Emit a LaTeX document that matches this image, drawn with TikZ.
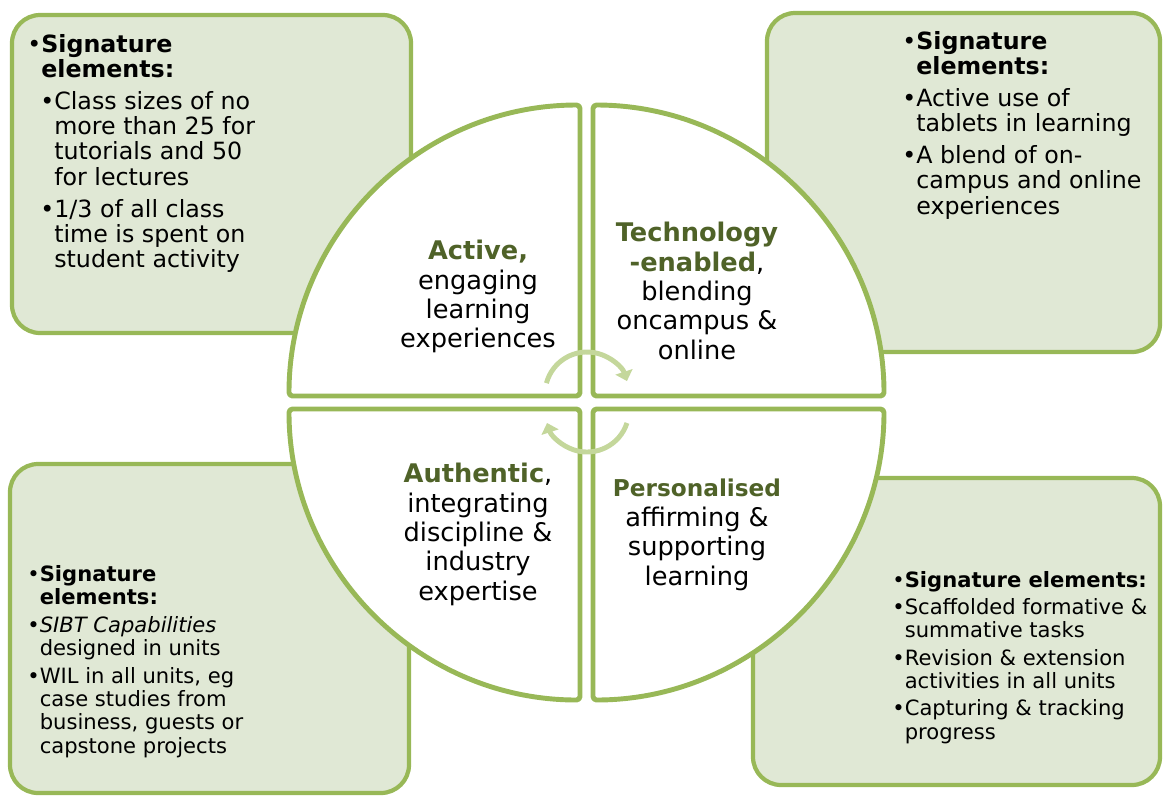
\documentclass[tikz,border=0pt]{standalone}
\usepackage{fontspec}
\setmainfont{DejaVu Sans}
\usepackage{tikz}
\usetikzlibrary{arrows.meta,positioning}

\definecolor{sigGreen}{RGB}{152,184,87}
\definecolor{sigFill}{RGB}{224,232,213}
\definecolor{sigDark}{RGB}{79,98,40}
\definecolor{sigLight}{RGB}{196,215,155}

\begin{document}
\begin{tikzpicture}[x=0.02cm,y=0.02cm,
  sigbox/.style={draw=sigGreen,fill=sigFill,line width=2.4pt,rounded corners=16pt},
  quarter/.style={draw=sigGreen,fill=white,line width=2.8pt,rounded corners=2pt,line join=round},
  bigtext/.style={align=left,inner sep=0pt,anchor=north west,font=\fontsize{13.5}{14.4}\selectfont},
  smalltext/.style={align=left,inner sep=0pt,anchor=north west,font=\fontsize{12}{13.3}\selectfont},
  midtext/.style={align=center,inner sep=0pt,anchor=north,font=\fontsize{14.6}{16.7}\selectfont},
  cyclearrow/.style={draw=sigLight,line width=2.8pt,-{Triangle[width=10pt,length=5.5pt]}}]
\useasboundingbox (0,0) rectangle (1163,-796);

% boxes behind the circle
\draw[sigbox] (12,-15) rectangle (411,-333);
\draw[sigbox] (767,-13) rectangle (1160,-352);
\draw[sigbox] (10,-464) rectangle (409,-793);
\draw[sigbox] (753,-478) rectangle (1160,-785);

% circle in four quarters
\draw[quarter] (580,-396) -- (289,-396) arc[start angle=180,end angle=90,radius=291] -- cycle;
\draw[quarter] (593,-396) -- (593,-105) arc[start angle=90,end angle=0,radius=291] -- cycle;
\draw[quarter] (580,-409) -- (289,-409) arc[start angle=180,end angle=270,radius=291] -- cycle;
\draw[quarter] (593,-409) -- (593,-700) arc[start angle=270,end angle=360,radius=291] -- cycle;

% cycle arrows in the middle
\coordinate (cycTop) at (587,-394);
\coordinate (cycBot) at (587,-410);
\draw[cyclearrow] ([shift={(165:42)}]cycTop) arc[start angle=165,end angle=18,radius=42];
\draw[cyclearrow] ([shift={(-18:42)}]cycBot) arc[start angle=-18,end angle=-162,radius=42];

% quarter texts
\node[midtext] (active) at (478,-240)
  {\textcolor{sigDark}{\textbf{Active,}}\\engaging\\learning\\experiences};
\node[midtext] (techno) at (697,-222)
  {\textcolor{sigDark}{\textbf{Technology}}\\\textcolor{sigDark}{\textbf{-enabled}},\\blending\\oncampus \&\\online};
\node[midtext] (authentic) at (478,-463)
  {\textcolor{sigDark}{\textbf{Authentic}},\\integrating\\discipline \&\\industry\\expertise};
\node[midtext] (personal) at (697,-479)
  {\textcolor{sigDark}{\fontsize{13.2}{16.7}\selectfont\textbf{Personalised}}\\affirming \&\\supporting\\learning};

% signature elements
\node[bigtext] (tlHead) at (27,-34) {•\textbf{Signature}\\\hphantom{•}\textbf{elements:}};
\node[bigtext] (tlItems) at (40,-91)
  {•Class sizes of no\\\hphantom{•}more than 25 for\\\hphantom{•}tutorials and 50\\\hphantom{•}for lectures\\[3.7pt]
   •1/3 of all class\\\hphantom{•}time is spent on\\\hphantom{•}student activity};

\node[bigtext] (trHead) at (902,-31) {•\textbf{Signature}\\\hphantom{•}\textbf{elements:}};
\node[bigtext] (trItems) at (902,-88)
  {•Active use of\\\hphantom{•}tablets in learning\\[3.7pt]
   •A blend of on-\\\hphantom{•}campus and online\\\hphantom{•}experiences};

\node[smalltext] (blHead) at (27,-565) {•\textbf{Signature}\\\hphantom{•}\textbf{elements:}};
\node[smalltext] (blItems) at (27,-616)
  {•\textit{SIBT Capabilities}\\\hphantom{•}designed in units\\[2.3pt]
   •WIL in all units, eg\\\hphantom{•}case studies from\\\hphantom{•}business, guests or\\\hphantom{•}capstone projects};

\node[smalltext] (brHead) at (892,-571) {•\textbf{Signature elements:}};
\node[smalltext] (brItems) at (892,-598)
  {•Scaffolded formative \&\\\hphantom{•}summative tasks\\[2.3pt]
   •Revision \& extension\\\hphantom{•}activities in all units\\[2.3pt]
   •Capturing \& tracking\\\hphantom{•}progress};
\end{tikzpicture}
\end{document}
